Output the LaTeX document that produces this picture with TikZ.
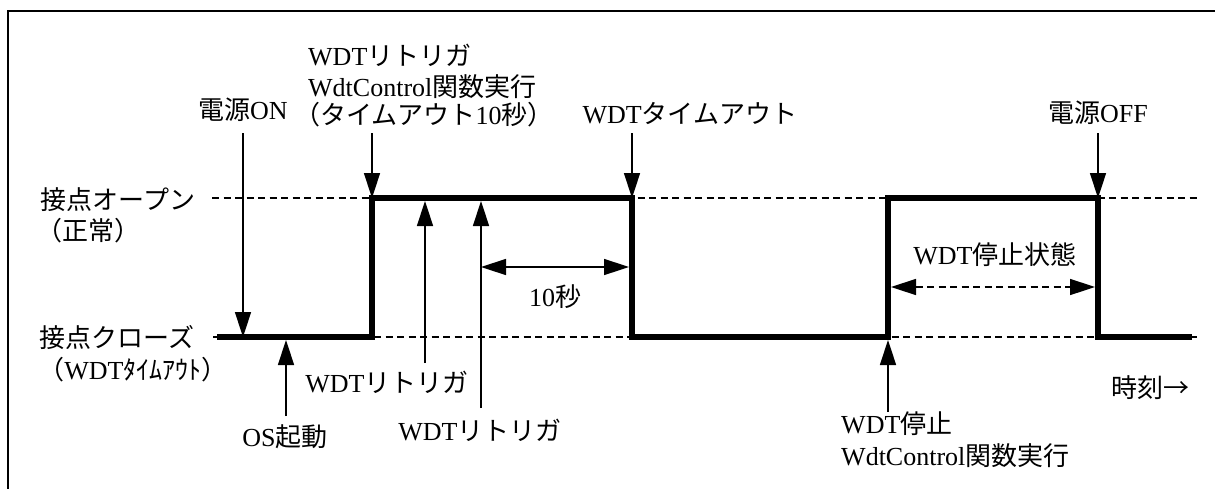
\documentclass[tikz,border=0pt]{standalone}
\usepackage{fontspec}
\setmainfont{Liberation Serif}
\newfontfamily\jpf{Noto Sans CJK JP}
\usetikzlibrary{arrows.meta}
\newcommand\jp[1]{{\jpf #1}}
\begin{document}
\begin{tikzpicture}[x=1pt,y=-1pt,
  lbl/.style={inner sep=0pt, font=\fontsize{26}{30}\selectfont},
  sig/.style={line width=6pt, line join=miter, line cap=butt},
  guide/.style={line width=1.5pt, dash pattern=on 7pt off 4.5pt},
  arr/.style={line width=1.5pt, -{Triangle[length=25pt,width=16pt]}},
  darr/.style={line width=1.5pt, {Triangle[length=25pt,width=16pt]}-{Triangle[length=25pt,width=16pt]}},
  frame/.style={line width=2pt}
]
\useasboundingbox (0,0) rectangle (1215,488);
\clip (0,0) rectangle (1215,488);
\draw[frame] (7.5,11) rectangle (1240,510);

% levels
\coordinate (hiL) at (212,198); \coordinate (hiR) at (1197,198);
\coordinate (loL) at (213,337); \coordinate (loR) at (1197,337);
\draw[guide] (hiL) -- (hiR);
\draw[guide] (loL) -- (loR);

% signal
\coordinate (s0) at (217,337);
\coordinate (s1) at (372,337); \coordinate (s2) at (372,198);
\coordinate (s3) at (632,198); \coordinate (s4) at (632,337);
\coordinate (s5) at (888,337); \coordinate (s6) at (888,198);
\coordinate (s7) at (1098,198); \coordinate (s8) at (1098,337);
\coordinate (s9) at (1192,337);
\draw[sig] (s0) -- (s1) -- (s2) -- (s3) -- (s4) -- (s5) -- (s6) -- (s7) -- (s8) -- (s9);

% labels
\node[lbl, anchor=west] (t1a) at (308,55) {WDT\jp{リトリガ}};
\node[lbl, anchor=west] (t1b) at (308,87) {WdtControl\jp{関数実行}};
\node[lbl, anchor=west] (t1c) at (294,115) {\jp{（タイムアウト}10\jp{秒）}};
\node[lbl] (pon) at (243,110) {\jp{電源}ON};
\node[lbl] (wto) at (690,113) {WDT\jp{タイムアウト}};
\node[lbl] (poff) at (1098,113) {\jp{電源}OFF};
\node[lbl] (open1) at (118,200) {\jp{接点オープン}};
\node[lbl] (open2) at (88,231) {\jp{（正常）}};
\node[lbl] (close1) at (117,338) {\jp{接点クローズ}};
\node[lbl] (close2) at (133,370) {\jp{（}WDT\jp{ﾀｲﾑｱｳﾄ）}};
\node[lbl] (os) at (285,437) {OS\jp{起動}};
\node[lbl] (rt1) at (387,382) {WDT\jp{リトリガ}};
\node[lbl] (rt2) at (480,430) {WDT\jp{リトリガ}};
\node[lbl] (ten) at (555,297) {10\jp{秒}};
\node[lbl] (stopst) at (995,255) {WDT\jp{停止状態}};
\node[lbl, anchor=west] (stop1) at (841,424) {WDT\jp{停止}};
\node[lbl, anchor=west] (stop2) at (841,456) {WdtControl\jp{関数実行}};
\node[lbl] (time) at (1150,388) {\jp{時刻→}};

% down arrows
\coordinate (aon1) at (243,133); \coordinate (aon2) at (243,337);
\coordinate (atr1) at (372,133); \coordinate (atr2) at (372,198);
\coordinate (ato1) at (632,133); \coordinate (ato2) at (632,198);
\coordinate (aof1) at (1098,133); \coordinate (aof2) at (1098,198);
\draw[arr] (aon1) -- (aon2);
\draw[arr] (atr1) -- (atr2);
\draw[arr] (ato1) -- (ato2);
\draw[arr] (aof1) -- (aof2);

% up arrows
\coordinate (aos1) at (286,416); \coordinate (aos2) at (286,340);
\coordinate (ar11) at (425,363); \coordinate (ar12) at (425,201);
\coordinate (ar21) at (481,408); \coordinate (ar22) at (481,201);
\coordinate (ast1) at (888,412); \coordinate (ast2) at (888,340);
\draw[arr] (aos1) -- (aos2);
\draw[arr] (ar11) -- (ar12);
\draw[arr] (ar21) -- (ar22);
\draw[arr] (ast1) -- (ast2);

% spans
\coordinate (d1a) at (481,267); \coordinate (d1b) at (629,267);
\draw[darr] (d1a) -- (d1b);
\coordinate (d2a) at (891,287); \coordinate (d2b) at (1095,287);
\draw[darr, dash pattern=on 7pt off 4.5pt] (d2a) -- (d2b);
\end{tikzpicture}
\end{document}
